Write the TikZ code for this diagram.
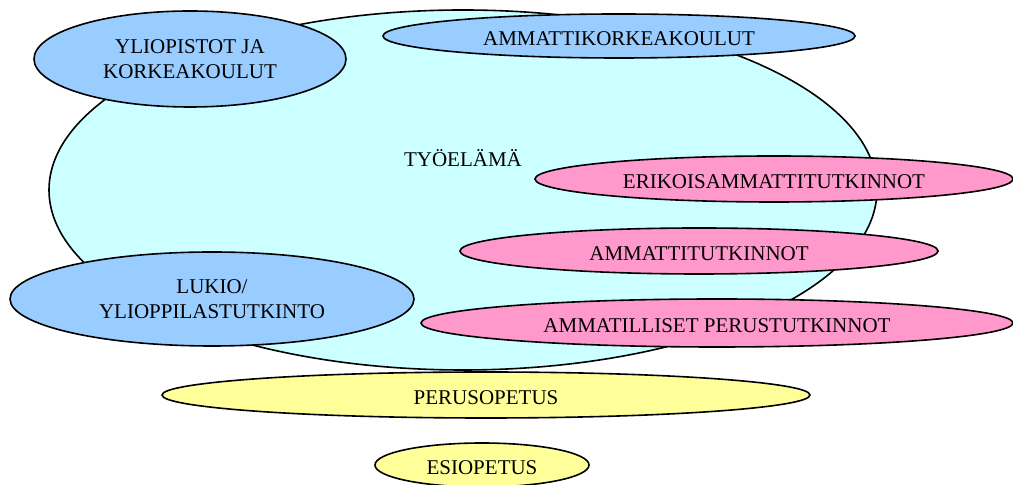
\documentclass[tikz,border=0pt]{standalone}
\usepackage{fontspec}
\setmainfont{Liberation Serif}
\usepackage{tikz}
\usetikzlibrary{shapes.geometric}
\definecolor{ecyan}{HTML}{CCFFFF}
\definecolor{eblue}{HTML}{99CCFF}
\definecolor{epink}{HTML}{FF99CC}
\definecolor{eyellow}{HTML}{FFFF99}
\tikzset{
  ebox/.style={ellipse, draw=black, line width=0.8pt, inner sep=0pt,
               align=center, font=\fontsize{10.5}{12.5}\selectfont},
  eline/.style={text height=10pt, text depth=0pt},
  eworld/.style={ebox, fill=ecyan},
  eacad/.style={ebox, fill=eblue},
  evoc/.style={ebox, eline, fill=epink},
  ebasic/.style={ebox, eline, fill=eyellow},
}

\begin{document}
\begin{tikzpicture}[x=0.5pt, y=-0.5pt]
  \useasboundingbox (0,0) rectangle (1013,485);

  %% working life, drawn first so the rest sits on it
  \node[eworld, minimum width=414pt, minimum height=180pt] (tyo) at (463,190) {};
  \node[font=\fontsize{10.5}{12.5}\selectfont] (tyolabel) at (463,158) {TYÖELÄMÄ};

  %% higher education
  \node[eacad, minimum width=156pt, minimum height=48pt] (yliopistot) at (190,59)
    {YLIOPISTOT JA\\KORKEAKOULUT};
  \node[eacad, eline, minimum width=236pt, minimum height=22pt] (amk) at (619,36)
    {AMMATTIKORKEAKOULUT};

  %% vocational qualifications
  \node[evoc, minimum width=239pt, minimum height=23pt] (erikois) at (774,179)
    {ERIKOISAMMATTITUTKINNOT};
  \node[evoc, minimum width=239pt, minimum height=23pt] (ammatti) at (699,251)
    {AMMATTITUTKINNOT};

  %% upper secondary
  \node[eacad, minimum width=202pt, minimum height=47pt] (lukio) at (212,299)
    {LUKIO/\\YLIOPPILASTUTKINTO};
  \node[evoc, minimum width=296pt, minimum height=24pt] (perustutk) at (717,323)
    {AMMATILLISET PERUSTUTKINNOT};

  %% basic and pre-primary
  \node[ebasic, minimum width=324pt, minimum height=23pt] (perus) at (486,395)
    {PERUSOPETUS};
  \node[ebasic, minimum width=107pt, minimum height=22pt] (esi) at (482,465)
    {ESIOPETUS};

\end{tikzpicture}
\end{document}
